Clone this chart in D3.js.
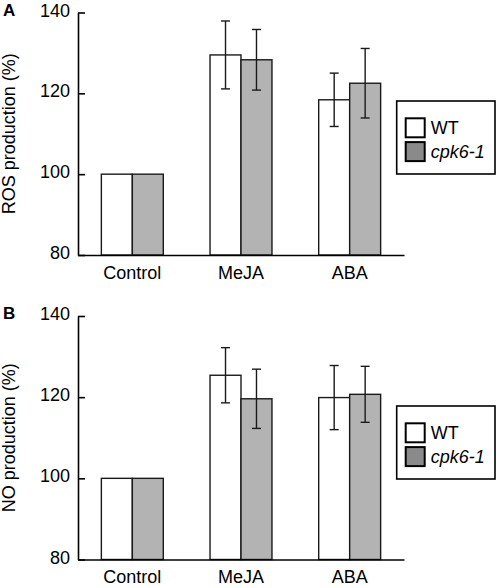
<!DOCTYPE html>
<html>
<head>
<meta charset="utf-8">
<script src="https://cdn.jsdelivr.net/npm/d3@7"></script>
<style>
  html, body { margin: 0; padding: 0; background: #fff; }
  svg { display: block; font-family: "Liberation Sans", Arial, Helvetica, sans-serif; }
</style>
</head>
<body>
<svg id="chart" width="498" height="588"></svg>
<script>
const categories = ["Control", "MeJA", "ABA"];
const seriesNames = ["WT", "cpk6-1"];
const yTicks = [80, 100, 120, 140];

const rosWT = [100, 129.5, 118.4];
const rosWTErr = [0, 8.4, 6.6];
const rosCpk = [100, 128.3, 122.5];
const rosCpkErr = [0, 7.5, 8.6];

const noWT = [100, 125.4, 119.9];
const noWTErr = [0, 6.8, 7.9];
const noCpk = [100, 119.6, 120.7];
const noCpkErr = [0, 7.3, 6.9];

const svg = d3.select("#chart");
const FONT = 18;
const stroke = "#1a1a1a";
const fills = ["#ffffff", "#b3b3b3"];
const legendFills = ["#ffffff", "#8a8a8a"];

function drawPanel(opts) {
  const { letter, title, wt, wtErr, cpk, cpkErr, yTop, yBottom, legendTop } = opts;
  const xLeft = 78, xRight = 404;

  const y = d3.scaleLinear().domain([80, 140]).range([yBottom, yTop]);
  const x = d3.scaleBand().domain(categories).range([xLeft, xRight])
    .paddingInner(0.43).paddingOuter(0.215);
  const xs = d3.scaleBand().domain(seriesNames).range([0, x.bandwidth()]);

  const g = svg.append("g");

  // Bars
  const seriesData = [
    { name: "WT", vals: wt, errs: wtErr },
    { name: "cpk6-1", vals: cpk, errs: cpkErr }
  ];
  seriesData.forEach((s, si) => {
    const rows = categories.map((c, i) => ({ c, v: s.vals[i], e: s.errs[i] }));
    g.append("g").selectAll("rect").data(rows).join("rect")
      .attr("x", d => x(d.c) + xs(s.name))
      .attr("y", d => y(d.v))
      .attr("width", xs.bandwidth())
      .attr("height", d => y(80) - y(d.v))
      .attr("fill", fills[si])
      .attr("stroke", stroke)
      .attr("stroke-width", 1.4);

    const eb = g.append("g").selectAll("g").data(rows.filter(d => d.e > 0)).join("g")
      .attr("stroke", stroke).attr("stroke-width", 1.4);
    const cx = d => x(d.c) + xs(s.name) + xs.bandwidth() / 2;
    eb.append("line")
      .attr("x1", cx).attr("x2", cx)
      .attr("y1", d => y(d.v + d.e)).attr("y2", d => y(d.v - d.e));
    eb.append("line")
      .attr("x1", d => cx(d) - 4.5).attr("x2", d => cx(d) + 4.5)
      .attr("y1", d => y(d.v + d.e)).attr("y2", d => y(d.v + d.e));
    eb.append("line")
      .attr("x1", d => cx(d) - 4.5).attr("x2", d => cx(d) + 4.5)
      .attr("y1", d => y(d.v - d.e)).attr("y2", d => y(d.v - d.e));
  });

  // Y axis
  const yAxis = g.append("g").attr("transform", `translate(${xLeft},0)`)
    .call(d3.axisLeft(y).tickValues(yTicks).tickSizeInner(-7).tickSizeOuter(0).tickPadding(8));
  yAxis.selectAll("path, line").attr("stroke", "#000").attr("stroke-width", 1.6);
  yAxis.selectAll("text")
    .attr("font-size", FONT).attr("fill", "#000")
    .attr("font-family", "'Liberation Sans', Arial, sans-serif")
    .attr("dy", "0.2em");

  // X axis
  const xAxis = g.append("g").attr("transform", `translate(0,${yBottom})`)
    .call(d3.axisBottom(x).tickSize(0).tickSizeOuter(0).tickPadding(11));
  xAxis.select("path").attr("stroke", "#000").attr("stroke-width", 1.6);
  xAxis.selectAll("text")
    .attr("font-size", FONT).attr("fill", "#000")
    .attr("font-family", "'Liberation Sans', Arial, sans-serif");

  // Y title
  g.append("text")
    .attr("transform", `translate(15,${(yTop + yBottom) / 2}) rotate(-90)`)
    .attr("text-anchor", "middle")
    .attr("font-size", FONT)
    .attr("fill", "#000")
    .text(title);

  // Panel letter
  g.append("text")
    .attr("x", 3).attr("y", yTop + 3)
    .attr("font-size", 17)
    .attr("font-weight", "bold")
    .attr("fill", "#000")
    .text(letter);

  // Legend
  const lg = g.append("g").attr("transform", `translate(396.7,${legendTop})`);
  lg.append("rect").attr("x", 0).attr("y", 0).attr("width", 98.3).attr("height", 73)
    .attr("fill", "#fff").attr("stroke", "#000").attr("stroke-width", 1.6);
  seriesNames.forEach((n, i) => {
    lg.append("rect")
      .attr("x", 9).attr("y", 17.3 + i * 23.8)
      .attr("width", 19).attr("height", 19)
      .attr("fill", legendFills[i]).attr("stroke", "#000").attr("stroke-width", 2);
    lg.append("text")
      .attr("x", 34).attr("y", 32.5 + i * 24.5)
      .attr("font-size", FONT)
      .attr("font-style", i === 1 ? "italic" : "normal")
      .attr("fill", "#000")
      .text(n);
  });
}

drawPanel({
  letter: "A", title: "ROS production (%)",
  wt: rosWT, wtErr: rosWTErr, cpk: rosCpk, cpkErr: rosCpkErr,
  yTop: 12.5, yBottom: 255, legendTop: 101
});
drawPanel({
  letter: "B", title: "NO production (%)",
  wt: noWT, wtErr: noWTErr, cpk: noCpk, cpkErr: noCpkErr,
  yTop: 316, yBottom: 559.5, legendTop: 406
});
</script>
</body>
</html>
